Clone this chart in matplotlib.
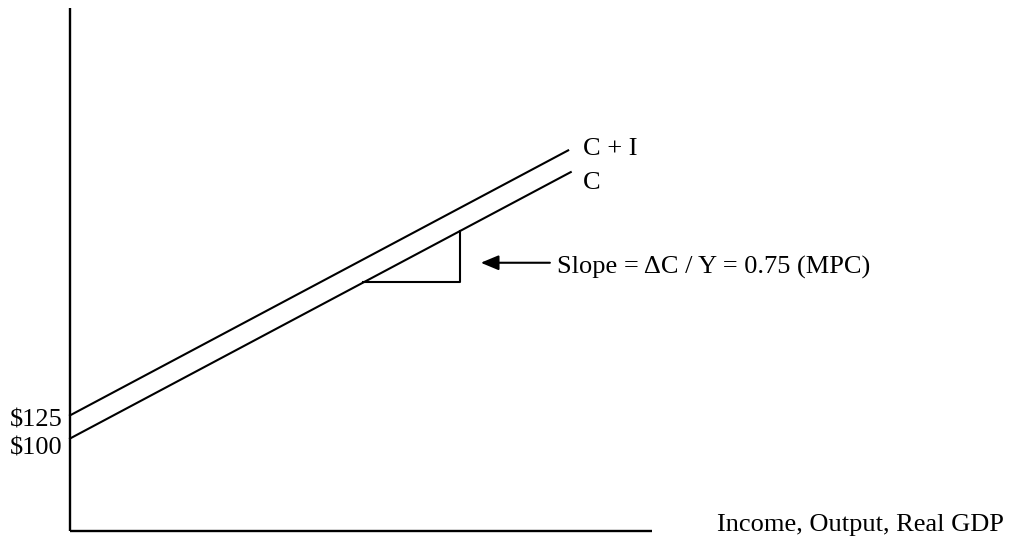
import matplotlib
matplotlib.use('Agg')
import matplotlib.pyplot as plt

# schematic values (spending vs income)
income = [0, 384]
consumption = [100, 388]
income_ci = [0, 382]
c_plus_i = [125, 411.5]
tri_x = [225, 299, 299]
tri_y = [268.75, 268.75, 324.25]
intercept_labels = ['$125', '$100']
intercept_values = [125, 100]
slope_text = 'Slope = \u0394C / Y = 0.75 (MPC)'
x_label = 'Income, Output, Real GDP'

plt.rcParams['font.family'] = ['Liberation Serif', 'DejaVu Serif']

fig = plt.figure(figsize=(10.11, 5.44), dpi=100)
ax = fig.add_axes([0, 0, 1, 1])
ax.set_xlim(-53.7, 721.6)
ax.set_ylim(-14.05, 574.05)
ax.axis('off')

# axes
ax.plot([0, 0], [0, 565], color='black', lw=1.7, solid_capstyle='butt')
ax.plot([0, 446], [0, 0], color='black', lw=1.7, solid_capstyle='butt')

ax.plot(income_ci, c_plus_i, color='black', lw=1.5)
ax.plot(income, consumption, color='black', lw=1.5)
ax.plot(tri_x, tri_y, color='black', lw=1.5)

fs = 19
ax.text(393.4, 412.5, 'C + I', fontsize=fs, va='center', ha='left')
ax.text(393.4, 376, 'C', fontsize=fs, va='center', ha='left')

for lab, val, off in zip(intercept_labels, intercept_values, [-5.5, -10.5]):
    ax.text(-5.4, val + off, lab, fontsize=fs, va='center', ha='right')

ax.annotate('', xy=(315, 290), xytext=(368, 290),
            arrowprops=dict(arrowstyle='-|>,head_length=0.6,head_width=0.25',
                            color='black', lw=1.5,
                            mutation_scale=18, shrinkA=0, shrinkB=0))
ax.text(373.5, 284.5, slope_text, fontsize=fs, va='center', ha='left')

ax.text(496, 6.5, x_label, fontsize=fs, va='center', ha='left')

fig.savefig('out.png', dpi=100)
